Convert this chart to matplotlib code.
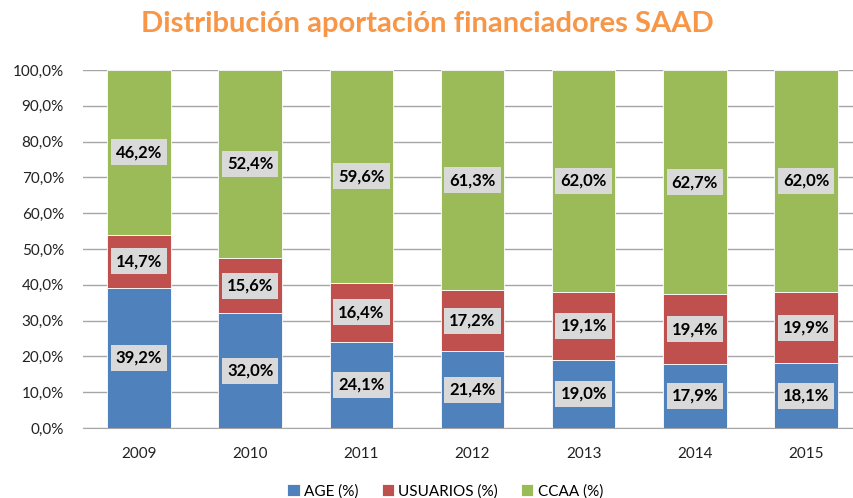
import matplotlib.pyplot as plt
import numpy as np
from matplotlib.ticker import FuncFormatter

years = ["2009", "2010", "2011", "2012", "2013", "2014", "2015"]
age = [39.2, 32.0, 24.1, 21.4, 19.0, 17.9, 18.1]
usuarios = [14.7, 15.6, 16.4, 17.2, 19.1, 19.4, 19.9]
ccaa = [46.2, 52.4, 59.6, 61.3, 62.0, 62.7, 62.0]

series = [
    ("AGE (%)", age, "#4F81BD"),
    ("USUARIOS (%)", usuarios, "#C0504D"),
    ("CCAA (%)", ccaa, "#9BBB59"),
]

plt.rcParams['font.family'] = ['Lato', 'DejaVu Sans']

fig = plt.figure(figsize=(8.54, 4.98), dpi=100)
ax = fig.add_axes([83.4 / 854, 70 / 498, (861.6 - 83.4) / 854, 358 / 498])

x = np.arange(len(years))
width = 0.57
bottom = np.zeros(len(years))
for name, vals, col in series:
    vals = np.array(vals)
    ax.bar(x, vals, width, bottom=bottom, color=col, label=name,
           edgecolor='white', linewidth=0.6, zorder=3)
    for xi, b, v in zip(x, bottom, vals):
        ax.text(xi, b + v / 2, f"{v:.1f}%".replace('.', ','), ha='center', va='center',
                fontsize=12, fontweight='bold', color='black', zorder=4,
                bbox=dict(boxstyle='square,pad=0.3', facecolor='#D9D9D9', edgecolor='none'))
    bottom += vals

ax.set_xlim(-0.5, len(years) - 0.5)
ax.set_ylim(0, 100)
ax.set_yticks(np.arange(0, 101, 10))
ax.yaxis.set_major_formatter(FuncFormatter(lambda v, p: f"{v:.1f}%".replace('.', ',')))
ax.set_xticks(x)
ax.set_xticklabels(years)
ax.tick_params(axis='both', length=0, labelsize=11, colors='#222222')
ax.tick_params(axis='x', pad=14)
ax.tick_params(axis='y', pad=14)
ax.grid(True, axis='y', color='#A6A6A6', linewidth=1, zorder=0)
for s in ['top', 'right', 'left']:
    ax.spines[s].set_visible(False)
ax.spines['bottom'].set_color('#A6A6A6')

fig.suptitle('Distribución aportación financiadores SAAD', x=0.5, y=0.978,
             fontsize=21, fontweight='bold', color='#F79646')

ax.legend(loc='lower center', bbox_to_anchor=(0.465, -0.235), ncol=3, frameon=False,
          fontsize=11, handlelength=0.8, handleheight=0.8, handletextpad=0.3, columnspacing=1.5)

fig.savefig('out.png', dpi=100)
